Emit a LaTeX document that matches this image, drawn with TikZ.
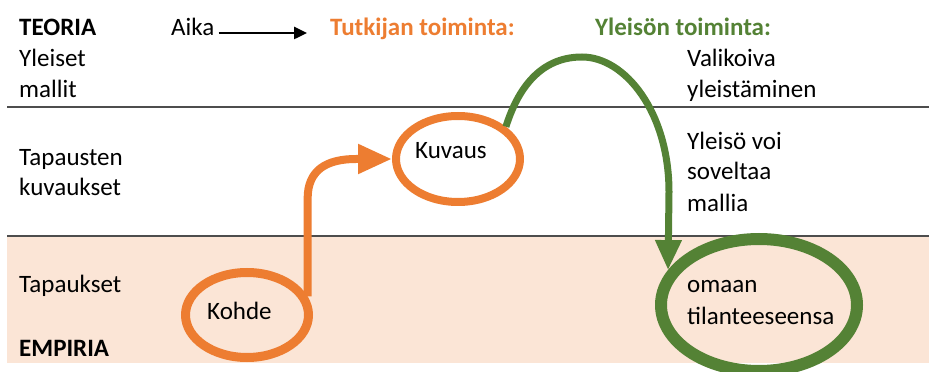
\documentclass[tikz,border=0pt]{standalone}
\usepackage{fontspec}
\setmainfont{Carlito}
\usetikzlibrary{arrows.meta,shapes.geometric}
\definecolor{orng}{HTML}{ED7D31}
\definecolor{grn}{HTML}{548235}
\definecolor{pinkbg}{HTML}{FBE5D6}
\definecolor{sepgray}{HTML}{4D4D4D}
\begin{document}
\begin{tikzpicture}[x=1pt,y=1pt,
  lbl/.style={anchor=base west, inner sep=0pt, font=\fontsize{25}{31}\selectfont},
  bold/.style={lbl, font=\fontsize{25}{31}\selectfont\bfseries},
  sepline/.style={draw=sepgray, line width=1.5pt},
  oval/.style={ellipse, draw, inner sep=0pt},
  oarrow/.style={draw=orng, line width=8pt, -{Triangle[length=34pt,width=28pt]}, fill=none},
  garrow/.style={draw=grn, line width=7pt, -{Triangle[length=30pt,width=25pt]}}
]
\useasboundingbox (0,0) rectangle (929,372);
% background band and separators
\fill[pinkbg] (7,9) rectangle (929,136);
\draw[sepline] (7,265) -- (929,265);
\draw[sepline] (7,136) -- (929,136);

% left labels
\node[bold] (teoria) at (19,336) {TEORIA};
\node[lbl] (yleiset) at (19,305) {Yleiset};
\node[lbl] (mallit) at (19,274) {mallit};
\node[lbl] (tapausten) at (19,206) {Tapausten};
\node[lbl] (kuvaukset) at (19,176) {kuvaukset};
\node[lbl] (tapaukset) at (19,79) {Tapaukset};
\node[bold] (empiria) at (19,15) {EMPIRIA};

% header
\node[lbl] (aika) at (171,336) {Aika};
\coordinate (aikaend) at (307,339);
\draw[line width=2.5pt, -{Triangle[length=13pt,width=12pt]}] ([shift={(4pt,3pt)}]aika.base east) -- (aikaend);
\node[bold, text=orng] (tutkija) at (330,336) {Tutkijan toiminta:};
\node[bold, text=grn] (yleiso) at (595,336) {Yleisön toiminta:};

% right labels
\node[lbl] (valikoiva) at (687,305) {Valikoiva};
\node[lbl] (yleistaminen) at (687,274) {yleistäminen};
\node[lbl] (yleisovoi) at (687,222) {Yleisö voi};
\node[lbl] (soveltaa) at (687,192) {soveltaa};
\node[lbl] (mallia) at (687,160) {mallia};

% ellipses
\node[oval, draw=orng, line width=9pt, minimum width=123pt, minimum height=85pt] (kohde) at (247,57) {};
\node[oval, draw=orng, line width=8pt, minimum width=124pt, minimum height=86pt] (kuvaus) at (458,213) {};
\node[oval, draw=grn, line width=12pt, minimum width=196pt, minimum height=132pt] (omaan) at (759,67) {};

\node[lbl] (kohdetxt) at (207,52) {Kohde};
\node[lbl] (kuvaustxt) at (415,213) {Kuvaus};
\node[lbl] (omaantxt) at (687,79) {omaan};
\node[lbl] (tilanne) at (687,47) {tilanteeseensa};

% connectors
\draw[oarrow] (kohde.17) -- ++(0,98) .. controls +(0,28) and (326,213) .. (356,213) -- (kuvaus.west);
\draw[garrow] (kuvaus.34) .. controls (520,290) and (545,315) .. (582,315)
  .. controls (625,315) and (669,260) .. (669,180) -- (omaan.159);
\end{tikzpicture}
\end{document}
